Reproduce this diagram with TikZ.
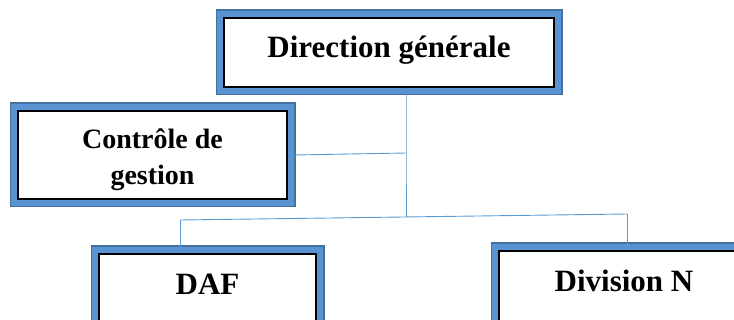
\documentclass[tikz,border=0pt]{standalone}
\usepackage{fontspec}
\setmainfont{Liberation Serif}
\usetikzlibrary{positioning,calc}
\definecolor{cadre}{HTML}{5A93D2}
\definecolor{cadrebord}{HTML}{41719C}
\definecolor{bleulien}{HTML}{5B9BD5}

\begin{document}
\begin{tikzpicture}[x=1pt,y=-1pt,
    boite/.style={draw=black, line width=2pt, fill=white, outer sep=7pt,
        preaction={draw=cadrebord, line width=17pt},
        preaction={draw=cadre, line width=14pt},
        font=\bfseries\fontsize{31}{36}\selectfont},
    lien/.style={draw=bleulien, line width=0.9pt}]
    \useasboundingbox (0,0) rectangle (734,320);

    % Boites
    \node[boite, minimum width=330pt, minimum height=69pt,
          text height=21pt, text depth=10pt] (dg) at (389,52.5) {Direction générale};
    \node[boite, minimum width=269pt, minimum height=88pt, align=center,
          text height=66pt, text depth=6pt,
          font=\bfseries\fontsize{28}{36}\selectfont] (cg) at (152.5,155) {Contrôle de\\gestion};
    \node[boite, minimum width=217pt, minimum height=75pt,
          text height=21pt, text depth=14pt] (daf) at (207.5,291.5) {DAF};
    \node[boite, minimum width=250pt, minimum height=75pt,
          text height=21pt, text depth=14pt] (divn) at (624,288.5) {Division N};

    % Points de jonction
    \coordinate (hub) at (406,153);
    \coordinate (bus) at (406,217);
    \coordinate (busg) at (180,220);
    \coordinate (busd) at (627,214);

    % Liens
    \draw[lien] (dg.south -| hub) -- (hub) -- (bus);
    \draw[lien] (cg.east) -- (hub);
    \draw[lien] (busg) -- (busd);
    \draw[lien] (busg) -- (daf.north -| busg);
    \draw[lien] (busd) -- (divn.north -| busd);
\end{tikzpicture}
\end{document}
